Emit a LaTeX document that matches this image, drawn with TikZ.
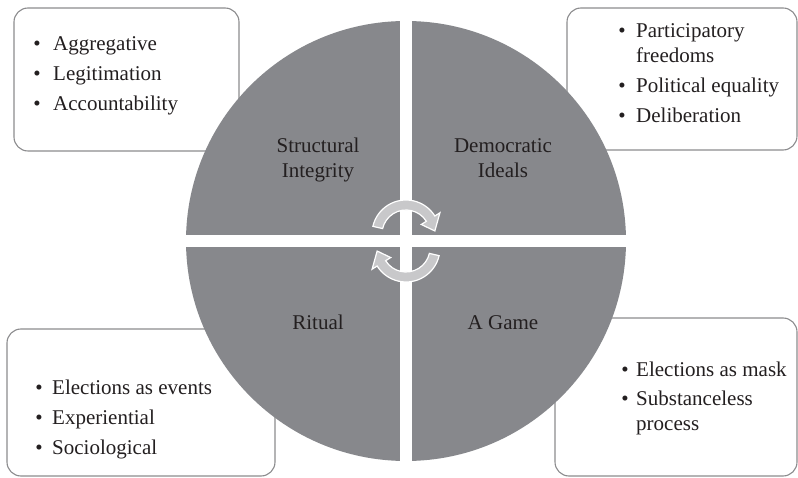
\documentclass[tikz,border=0pt]{standalone}
\usepackage{fontspec}
\setmainfont{Liberation Serif}
\begin{document}
\begin{tikzpicture}[x=1pt,y=1pt,
  box/.style={draw=boxline, line width=1.1pt, rounded corners=14pt},
  lbl/.style={text=txt, inner sep=0pt, font=\fontsize{21}{25}\selectfont, anchor=base},
  itm/.style={text=txt, inner sep=0pt, font=\fontsize{21}{25}\selectfont, anchor=base west},
  bul/.style={text=txt, inner sep=0pt, font=\fontsize{21}{25}\selectfont, anchor=base},
  cyc/.style={fill=arrowfill, draw=white, line width=1.2pt, line join=miter}
]
\definecolor{boxline}{RGB}{140,140,142}
\definecolor{pie}{RGB}{135,136,140}
\definecolor{txt}{RGB}{35,31,32}
\definecolor{arrowfill}{RGB}{200,200,202}
\useasboundingbox (0,0) rectangle (798,477);
\fill[white] (0,0) rectangle (798,477);

% boxes
\draw[box] (14,326) rectangle (239,469);
\draw[box] (567,327) rectangle (797,469);
\draw[box] (7,1) rectangle (275,148);
\draw[box] (555,1) rectangle (797,159);

% circle
\coordinate (c) at (406,236);
\fill[pie] (c) circle[radius=220];
\fill[white] (400,10) rectangle (412,462);
\fill[white] (180,230) rectangle (632,242);

% cycle arrows
\coordinate (ca) at (406,243);
\coordinate (cb) at (406,229);
\draw[cyc] ([shift={(167:34)}]ca) arc[start angle=167, end angle=32, radius=34]
  -- ([shift={(32:40)}]ca) -- ([shift={(6:29)}]ca) -- ([shift={(32:18)}]ca)
  -- ([shift={(32:24)}]ca) arc[start angle=32, end angle=167, radius=24] -- cycle;
\draw[cyc] ([shift={(347:34)}]cb) arc[start angle=347, end angle=212, radius=34]
  -- ([shift={(212:40)}]cb) -- ([shift={(186:29)}]cb) -- ([shift={(212:18)}]cb)
  -- ([shift={(212:24)}]cb) arc[start angle=212, end angle=347, radius=24] -- cycle;

% quadrant labels
\node[lbl] (si) at (318,324) {\begin{tabular}[t]{@{}c@{}}Structural\\Integrity\end{tabular}};
\node[lbl] (di) at (503,324) {\begin{tabular}[t]{@{}c@{}}Democratic\\Ideals\end{tabular}};
\node[lbl] (ri) at (318,147) {Ritual};
\node[lbl] (ag) at (503,147) {A Game};

% top-left list
\node[bul] (b1) at (37,426) {•}; \node[itm] (t1) at (53,426) {Aggregative};
\node[bul] (b2) at (37,396) {•}; \node[itm] (t2) at (53,396) {Legitimation};
\node[bul] (b3) at (37,366) {•}; \node[itm] (t3) at (53,366) {Accountability};

% top-right list
\node[bul] (b4) at (622,439) {•}; \node[itm] (t4) at (636,439) {Participatory};
\node[itm] (t4b) at (636,414) {freedoms};
\node[bul] (b5) at (622,384) {•}; \node[itm] (t5) at (636,384) {Political equality};
\node[bul] (b6) at (622,354) {•}; \node[itm] (t6) at (636,354) {Deliberation};

% bottom-left list
\node[bul] (b7) at (39,83) {•}; \node[itm] (t7) at (52,83) {Elections as events};
\node[bul] (b8) at (39,53) {•}; \node[itm] (t8) at (52,53) {Experiential};
\node[bul] (b9) at (39,23) {•}; \node[itm] (t9) at (52,23) {Sociological};

% bottom-right list
\node[bul] (b10) at (625,100) {•}; \node[itm] (t10) at (636,100) {Elections as mask};
\node[bul] (b11) at (625,72) {•}; \node[itm] (t11) at (636,72) {Substanceless};
\node[itm] (t11b) at (636,47) {process};
\end{tikzpicture}
\end{document}
